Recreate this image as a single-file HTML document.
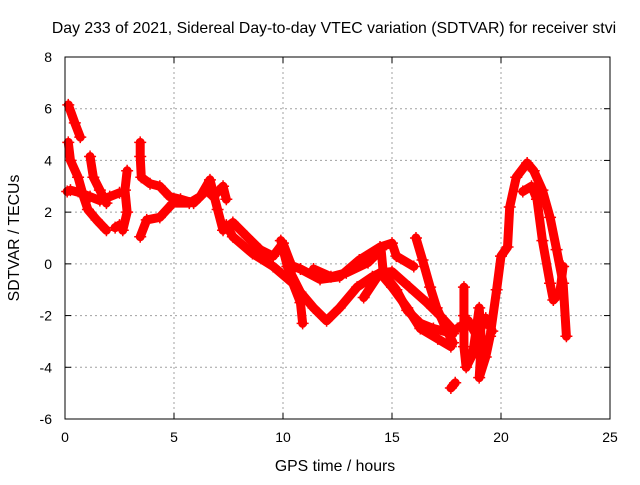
<!DOCTYPE html>
<html><head><meta charset="utf-8"><style>
body{margin:0;background:#fff}
text{font-family:"Liberation Sans",sans-serif;font-size:14px;fill:#000}
.big{font-size:15.8px}
</style></head><body>
<svg id="chart" width="640" height="480" xmlns="http://www.w3.org/2000/svg">
<rect width="640" height="480" fill="#fff"/>
<text class="big" x="334" y="33" text-anchor="middle">Day 233 of 2021, Sidereal Day-to-day VTEC variation (SDTVAR) for receiver stvi</text>
<text class="big" x="335" y="471" text-anchor="middle">GPS time / hours</text>
<text class="big" x="0" y="0" text-anchor="middle" transform="translate(19,238) rotate(-90)">SDTVAR / TECUs</text>
<g id="grid"></g>
<g id="axes"></g>
<g id="series"></g>
<rect x="65" y="57" width="545" height="362" fill="none" stroke="#000" stroke-width="1"/>
</svg>
<script>
const xTicks=[0,5,10,15,20,25];
const yTicks=[-6,-4,-2,0,2,4,6,8];
const trackA=[[0.15,6.15],[0.45,5.45],[0.7,4.9]];
const trackB=[[0.15,4.7],[0.25,4.0],[0.6,3.35],[0.85,2.6],[1.05,2.1],[1.45,1.7],[1.9,1.3]];
const trackC=[[0.1,2.8],[0.25,2.85],[0.7,2.75],[1.15,2.6],[1.6,2.45],[2.05,2.6],[2.5,2.75]];
const trackD=[[1.15,4.15],[1.3,3.35],[1.6,2.85],[1.9,2.35]];
const trackE=[[2.85,3.6],[2.75,2.85],[2.85,2.0],[2.65,1.3]];
const trackE2=[[2.3,1.4],[2.5,1.5]];
const trackF=[[3.45,4.7],[3.45,4.15],[3.5,3.35],[3.9,3.1],[4.35,3.0],[4.8,2.6],[5.3,2.5],[5.9,2.35],[6.5,2.85],[6.8,2.6],[7.25,3.0],[7.4,2.5]];
const trackG=[[3.45,1.05],[3.75,1.7],[4.35,1.8],[4.95,2.35],[5.7,2.35],[6.2,2.6],[6.65,3.25],[7.0,2.1],[7.25,1.3],[7.7,1.6],[8.35,1.05],[8.95,0.55],[9.55,0.3],[10.0,0.8],[10.45,-0.2]];
const trackH=[[7.4,1.5],[7.7,1.05],[8.6,0.4],[9.55,-0.1],[10.45,-0.75],[10.8,-1.5],[10.9,-2.3]];
const trackI=[[9.9,0.9],[10.2,-0.1],[10.8,-1.1],[11.4,-1.7],[12.0,-2.2],[12.6,-1.7],[13.4,-0.9],[14.1,-0.5],[14.45,-0.35],[15.0,-0.9],[15.7,-1.7],[16.3,-2.5],[17.1,-2.9],[17.7,-3.2]];
const trackJ=[[10.5,-0.1],[10.8,-0.2],[11.7,-0.6],[12.6,-0.5],[13.5,0.15],[14.45,0.65],[15.0,0.8],[15.2,0.3],[16.0,-0.1]];
const trackK=[[11.4,-0.2],[12.2,-0.5],[12.9,-0.35],[13.9,0.05],[14.5,0.55],[14.6,-0.35],[15.2,-1.0],[15.7,-1.8],[16.3,-2.3],[16.9,-2.5],[17.8,-2.7]];
const trackL=[[13.7,-1.3],[14.45,-0.35],[15.0,-0.3],[15.8,-0.9],[16.6,-1.5],[17.2,-2.0],[17.8,-2.55]];
const trackM=[[16.1,1.0],[16.4,0.15],[16.75,-0.9],[17.05,-1.7],[17.5,-2.55],[17.8,-3.05]];
const trackN=[[18.3,-0.9],[18.3,-2.0],[18.3,-3.2],[18.4,-4.0],[18.7,-3.5],[19.0,-1.7],[19.1,-3.0],[19.0,-4.4],[19.3,-3.6],[19.5,-2.8],[19.8,-1.0],[20.0,0.3],[20.3,0.65],[20.4,2.2],[20.7,3.35],[21.2,3.9],[21.5,3.6],[21.9,2.85],[22.25,1.8],[22.55,0.55],[22.85,-0.75],[23.0,-2.8]];
const trackO=[[21.0,2.8],[21.4,3.0],[21.65,2.5],[21.9,0.9],[22.25,-0.75],[22.4,-1.4],[22.7,-1.1],[22.85,-0.1]];
const trackP=[[17.7,-4.8],[17.9,-4.6]];
const trackQ=[[18.0,-2.5],[18.5,-2.2],[18.9,-2.8],[19.3,-2.1],[19.6,-2.6]];
const tracks=[trackA,trackB,trackC,trackD,trackE,trackE2,trackF,trackG,trackH,trackI,trackJ,trackK,trackL,trackM,trackN,trackO,trackP,trackQ];
const X0=65,X1=610,Y0=419,Y1=57,xmin=0,xmax=25,ymin=-6,ymax=8;
function sx(v){return X0+(v-xmin)/(xmax-xmin)*(X1-X0);}
function sy(v){return Y0-(v-ymin)/(ymax-ymin)*(Y0-Y1);}
const NS='http://www.w3.org/2000/svg';
function mk(tag,attrs,parent){const e=document.createElementNS(NS,tag);for(const k in attrs)e.setAttribute(k,attrs[k]);parent.appendChild(e);return e;}
const grid=document.getElementById('grid'),axes=document.getElementById('axes'),ser=document.getElementById('series');
xTicks.forEach(t=>{
  const x=sx(t);
  if(t>xmin&&t<xmax){const g=mk('line',{x1:x,x2:x,y1:Y0,y2:Y1,stroke:'#a0a0a0','stroke-dasharray':'2,3'},grid);
  
  }
  mk('line',{x1:x,x2:x,y1:Y0,y2:Y0-6,stroke:'#000'},axes);
  mk('line',{x1:x,x2:x,y1:Y1,y2:Y1+6,stroke:'#000'},axes);
  const l=mk('text',{x:x,y:Y0+23,'text-anchor':'middle'},axes);l.textContent=t;
  
  
});
yTicks.forEach(t=>{
  const y=sy(t);
  if(t>ymin&&t<ymax){const g=mk('line',{x1:X0,x2:X1,y1:y,y2:y,stroke:'#a0a0a0','stroke-dasharray':'2,3'},grid);
  
  }
  mk('line',{x1:X0,x2:X0+6,y1:y,y2:y,stroke:'#000'},axes);
  mk('line',{x1:X1,x2:X1-6,y1:y,y2:y,stroke:'#000'},axes);
  const l=mk('text',{x:X0-13,y:y+5,'text-anchor':'end'},axes);l.textContent=t;
  
  
});
tracks.forEach(tr=>{
  const pts=tr.map(p=>sx(p[0])+','+sy(p[1])).join(' ');
  const pl=mk('polyline',{points:pts,fill:'none',stroke:'#ff0000','stroke-width':9,'stroke-linejoin':'round','stroke-linecap':'round'},ser);
  
  
  tr.forEach(p=>{
    const x=sx(p[0]),y=sy(p[1]);
    const m=mk('path',{d:`M${x-6},${y}H${x+6}M${x},${y-6}V${y+6}`,stroke:'#ff0000','stroke-width':1.5},ser);
    
    
  });
});
</script>
</body></html>
